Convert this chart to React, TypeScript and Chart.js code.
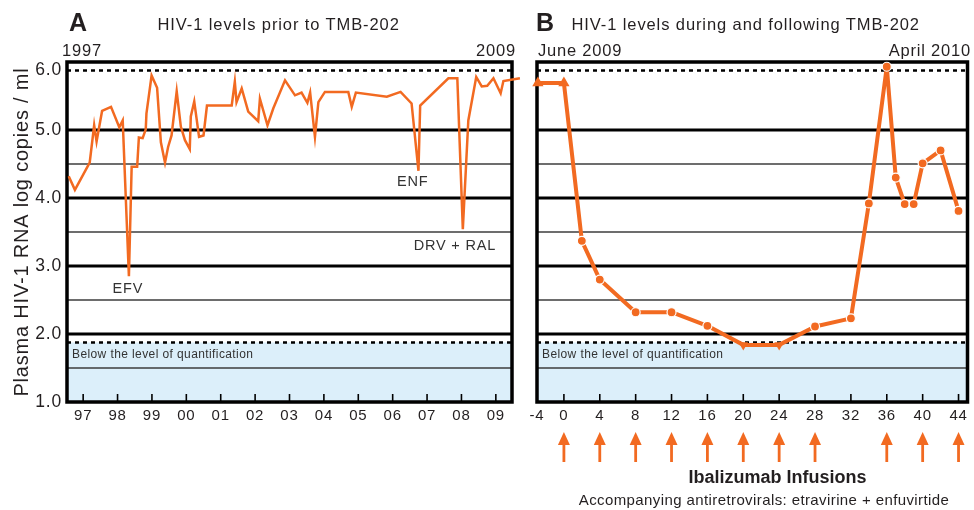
import { useEffect, useRef } from 'react';
import { Chart, registerables } from 'chart.js';

Chart.register(...registerables);

const FONT = '"Liberation Sans", Arial, Helvetica, sans-serif';
const ORANGE = '#F26A21';
const BAND = '#DCEFFA';
const TEXT = '#231F20';

// ---------- Panel A: HIV-1 levels prior to TMB-202 ----------
const yearsA = [96.58, 96.76, 97.19, 97.32, 97.39, 97.55, 97.81, 98.05, 98.15, 98.33, 98.41, 98.57, 98.62, 98.73, 98.82, 98.84, 98.99, 99.15, 99.26, 99.38, 99.47, 99.57, 99.72, 99.84, 99.96, 100.10, 100.13, 100.23, 100.37, 100.50, 100.60, 101.32, 101.41, 101.46, 101.61, 101.80, 102.09, 102.14, 102.36, 102.53, 102.87, 103.16, 103.35, 103.52, 103.60, 103.74, 103.84, 104.03, 104.71, 104.81, 104.93, 105.83, 106.23, 106.55, 106.75, 106.80, 107.62, 107.88, 108.04, 108.20, 108.43, 108.59, 108.75, 108.93, 109.14, 109.22, 109.70];
const logA = [4.32, 4.12, 4.52, 5.07, 4.83, 5.28, 5.34, 5.04, 5.14, 2.85, 4.46, 4.46, 4.89, 4.88, 5.01, 5.24, 5.80, 5.62, 4.82, 4.52, 4.75, 4.92, 5.57, 5.05, 4.85, 4.72, 5.20, 5.42, 4.90, 4.92, 5.36, 5.36, 5.71, 5.41, 5.61, 5.27, 5.13, 5.46, 5.07, 5.32, 5.73, 5.51, 5.55, 5.40, 5.55, 4.90, 5.41, 5.56, 5.56, 5.34, 5.55, 5.49, 5.56, 5.39, 4.40, 5.36, 5.76, 5.76, 3.54, 5.14, 5.78, 5.64, 5.65, 5.76, 5.54, 5.72, 5.76];
const yearMin = 96.53;
const yearMax = 109.47;
const yearTickValues = [97, 98, 99, 100, 101, 102, 103, 104, 105, 106, 107, 108, 109];
const yearTickLabels = ['97', '98', '99', '00', '01', '02', '03', '04', '05', '06', '07', '08', '09'];
const annotationLabelsA = ['EFV', 'ENF', 'DRV + RAL'];
const annotationYearsA = [98.3, 106.58, 107.81];
const annotationLogA = [2.66, 4.23, 3.29];

// ---------- Panel B: HIV-1 levels during and following TMB-202 ----------
const weeksB = [-2.9, 0, 2, 4, 8, 12, 16, 20, 24, 28, 32, 34, 36, 37, 38, 39, 40, 42, 44];
const logB = [5.69, 5.69, 3.37, 2.8, 2.32, 2.32, 2.12, 1.84, 1.84, 2.11, 2.23, 3.92, 5.93, 4.3, 3.91, 3.91, 4.51, 4.7, 3.81];
const kindB = ['above', 'above', 'measured', 'measured', 'measured', 'measured', 'measured', 'below', 'below', 'measured', 'measured', 'measured', 'measured', 'measured', 'measured', 'measured', 'measured', 'measured', 'measured'];
const weekMin = -3;
const weekMax = 45;
const weekTickValues = [-3, 0, 4, 8, 12, 16, 20, 24, 28, 32, 36, 40, 44];
const weekTickLabels = ['-4', '0', '4', '8', '12', '16', '20', '24', '28', '32', '36', '40', '44'];
const infusionWeeks = [0, 4, 8, 12, 16, 20, 24, 28, 36, 40, 44];

// ---------- Shared y axis ----------
const yMin = 1;
const yMax = 6;
const yTickValues = [1, 2, 3, 4, 5, 5.875];
const yTickLabels = ['1.0', '2.0', '3.0', '4.0', '5.0', '6.0'];
const majorLevels = [2, 3, 4, 5];
const minorLevels = [1.5, 2.5, 3.5, 4.5];
const quantLimits = [1.875, 5.875];
const belowText = 'Below the level of quantification';
const belowTextLevel = 1.7;

function framePlugin(markTicks: number[]) {
  return {
    id: 'frame',
    beforeDraw(chart: any) {
      chart.ctx.letterSpacing = '0.8px';
    },
    beforeDatasetsDraw(chart: any) {
      const { ctx, chartArea: a, scales } = chart;
      const x = scales.x;
      const y = scales.y;
      ctx.save();
      const bandTop = y.getPixelForValue(quantLimits[0]);
      ctx.fillStyle = BAND;
      ctx.fillRect(a.left, bandTop, a.right - a.left, a.bottom - bandTop);
      const hline = (v: number) => {
        const py = y.getPixelForValue(v);
        ctx.beginPath();
        ctx.moveTo(a.left, py);
        ctx.lineTo(a.right, py);
        ctx.stroke();
      };
      ctx.strokeStyle = '#3c3c3c';
      ctx.lineWidth = 1.3;
      minorLevels.forEach(hline);
      ctx.strokeStyle = '#000';
      ctx.lineWidth = 3;
      majorLevels.forEach(hline);
      ctx.setLineDash([4, 4]);
      ctx.lineWidth = 2.5;
      quantLimits.forEach(hline);
      ctx.setLineDash([]);
      ctx.lineWidth = 1.6;
      markTicks.forEach((v) => {
        const px = x.getPixelForValue(v);
        ctx.beginPath();
        ctx.moveTo(px, a.bottom);
        ctx.lineTo(px, a.bottom - 8);
        ctx.stroke();
      });
      ctx.fillStyle = '#333';
      ctx.letterSpacing = '0.4px';
      ctx.font = `12px ${FONT}`;
      ctx.textAlign = 'left';
      ctx.textBaseline = 'middle';
      ctx.fillText(belowText, a.left + 5, y.getPixelForValue(belowTextLevel));
      ctx.lineWidth = 3.5;
      ctx.strokeRect(a.left, a.top, a.right - a.left, a.bottom - a.top);
      ctx.restore();
    },
  };
}

const annotationPlugin = {
  id: 'annotA',
  afterDatasetsDraw(chart: any) {
    const { ctx, scales } = chart;
    ctx.save();
    ctx.fillStyle = '#333';
    ctx.font = `14.5px ${FONT}`;
    ctx.textAlign = 'center';
    ctx.textBaseline = 'middle';
    annotationLabelsA.forEach((t, i) => {
      ctx.fillText(t, scales.x.getPixelForValue(annotationYearsA[i]), scales.y.getPixelForValue(annotationLogA[i]));
    });
    ctx.restore();
  },
};

const arrowPlugin = {
  id: 'arrowsB',
  afterDraw(chart: any) {
    const { ctx, scales, chartArea: a } = chart;
    ctx.save();
    ctx.fillStyle = ORANGE;
    ctx.strokeStyle = ORANGE;
    ctx.lineWidth = 2.8;
    infusionWeeks.forEach((w) => {
      const px = scales.x.getPixelForValue(w);
      ctx.beginPath();
      ctx.moveTo(px, a.bottom + 60);
      ctx.lineTo(px, a.bottom + 40);
      ctx.stroke();
      ctx.beginPath();
      ctx.moveTo(px, a.bottom + 30);
      ctx.lineTo(px - 6, a.bottom + 43);
      ctx.lineTo(px + 6, a.bottom + 43);
      ctx.closePath();
      ctx.fill();
    });
    ctx.restore();
  },
};

function yScale(show: boolean) {
  return {
    type: 'linear',
    min: yMin,
    max: yMax,
    display: show,
    afterFit: (s: any) => {
      s.width = show ? 67 : 0;
    },
    afterBuildTicks: (s: any) => {
      s.ticks = yTickValues.map((v) => ({ value: v }));
    },
    grid: { display: false, drawTicks: false },
    border: { display: false },
    ticks: {
      autoSkip: false,
      padding: 5,
      color: TEXT,
      font: { size: 17.5, family: FONT },
      callback: (_v: any, i: number) => yTickLabels[i],
    },
    title: {
      display: show,
      text: 'Plasma HIV-1 RNA log copies / ml',
      color: TEXT,
      font: { size: 20, family: FONT },
      padding: { top: 10, bottom: 0 },
    },
  };
}

function xScale(min: number, max: number, values: number[], labels: string[], height: number) {
  return {
    type: 'linear',
    min,
    max,
    afterFit: (s: any) => {
      s.height = height;
    },
    afterBuildTicks: (s: any) => {
      s.ticks = values.map((v) => ({ value: v }));
    },
    grid: { display: false, drawTicks: false },
    border: { display: false },
    ticks: {
      autoSkip: false,
      maxRotation: 0,
      padding: 5,
      color: TEXT,
      font: { size: 15, family: FONT },
      callback: (_v: any, i: number) => labels[i],
    },
  };
}

function Txt(props: { x: number; y: number; size: number; bold?: boolean; anchor?: string; spacing?: number; children: any }) {
  const { x, y, size, bold, anchor = 'start', spacing = 0, children } = props;
  const tx = anchor === 'middle' ? '-50%' : anchor === 'end' ? '-100%' : '0';
  return (
    <div
      style={{
        position: 'absolute',
        left: x,
        top: y,
        transform: `translate(${tx}, -50%)`,
        fontFamily: FONT,
        fontSize: size,
        fontWeight: bold ? 700 : 400,
        lineHeight: 1,
        letterSpacing: spacing,
        whiteSpace: 'nowrap',
        color: TEXT,
      }}
    >
      {children}
    </div>
  );
}

export default function App() {
  const refA = useRef<HTMLCanvasElement>(null);
  const refB = useRef<HTMLCanvasElement>(null);

  useEffect(() => {
    Chart.defaults.font.family = FONT;
    const chartA = new Chart(refA.current as HTMLCanvasElement, {
      type: 'line',
      data: {
        datasets: [
          {
            data: yearsA.map((x, i) => ({ x, y: logA[i] })),
            borderColor: ORANGE,
            borderWidth: 2.5,
            pointRadius: 0,
            tension: 0,
            clip: false as any,
          },
        ],
      },
      options: {
        responsive: false,
        animation: false,
        devicePixelRatio: 1,
        layout: { padding: { left: 0, top: 62, right: 13, bottom: 0 } },
        plugins: { legend: { display: false }, tooltip: { enabled: false } },
        events: [],
        scales: {
          x: xScale(yearMin, yearMax, yearTickValues, yearTickLabels, 28) as any,
          y: yScale(true) as any,
        },
      },
      plugins: [framePlugin(yearTickValues), annotationPlugin],
    });

    const chartB = new Chart(refB.current as HTMLCanvasElement, {
      type: 'line',
      data: {
        datasets: [
          {
            data: weeksB.map((x, i) => ({ x, y: logB[i] })),
            borderColor: ORANGE,
            borderWidth: 4,
            borderJoinStyle: 'round',
            tension: 0,
            clip: false as any,
            pointStyle: kindB.map((k) => (k === 'measured' ? 'circle' : 'triangle')) as any,
            pointRotation: kindB.map((k) => (k === 'below' ? 180 : 0)),
            pointRadius: kindB.map((k) => (k === 'measured' ? 4.5 : k === 'above' ? 6.5 : 5.5)),
            pointBackgroundColor: ORANGE,
            pointBorderColor: '#ffffff',
            pointBorderWidth: kindB.map((k) => (k === 'measured' ? 1.2 : 0)),
          },
        ],
      },
      options: {
        responsive: false,
        animation: false,
        devicePixelRatio: 1,
        layout: { padding: { left: 12, top: 62, right: 3, bottom: 0 } },
        plugins: { legend: { display: false }, tooltip: { enabled: false } },
        events: [],
        scales: {
          x: xScale(weekMin, weekMax, weekTickValues, weekTickLabels, 68) as any,
          y: yScale(false) as any,
        },
      },
      plugins: [framePlugin(weekTickValues.filter((v) => v >= 0)), arrowPlugin],
    });

    return () => {
      chartA.destroy();
      chartB.destroy();
    };
  }, []);

  return (
    <div style={{ position: 'absolute', left: 0, top: 0, width: 974, height: 510, background: '#fff', overflow: 'hidden' }}>
      <canvas ref={refA} width={525} height={430} style={{ position: 'absolute', left: 0, top: 0 }} />
      <canvas ref={refB} width={449} height={470} style={{ position: 'absolute', left: 525, top: 0 }} />
      <Txt x={69} y={21.5} size={25} bold>A</Txt>
      <Txt x={157.5} y={24} size={16.5} spacing={0.9}>HIV-1 levels prior to TMB-202</Txt>
      <Txt x={62} y={49.5} size={16.5} spacing={0.8}>1997</Txt>
      <Txt x={516} y={49.5} size={16.5} spacing={0.8} anchor="end">2009</Txt>
      <Txt x={536} y={21.5} size={25} bold>B</Txt>
      <Txt x={571.5} y={24} size={16.5} spacing={0.9}>HIV-1 levels during and following TMB-202</Txt>
      <Txt x={538} y={49.5} size={16.5} spacing={0.8}>June 2009</Txt>
      <Txt x={971} y={49.5} size={16.5} spacing={0.8} anchor="end">April 2010</Txt>
      <Txt x={777.5} y={476.5} size={18} bold anchor="middle">Ibalizumab Infusions</Txt>
      <Txt x={764} y={499} size={15} spacing={0.4} anchor="middle">Accompanying antiretrovirals: etravirine + enfuvirtide</Txt>
    </div>
  );
}
